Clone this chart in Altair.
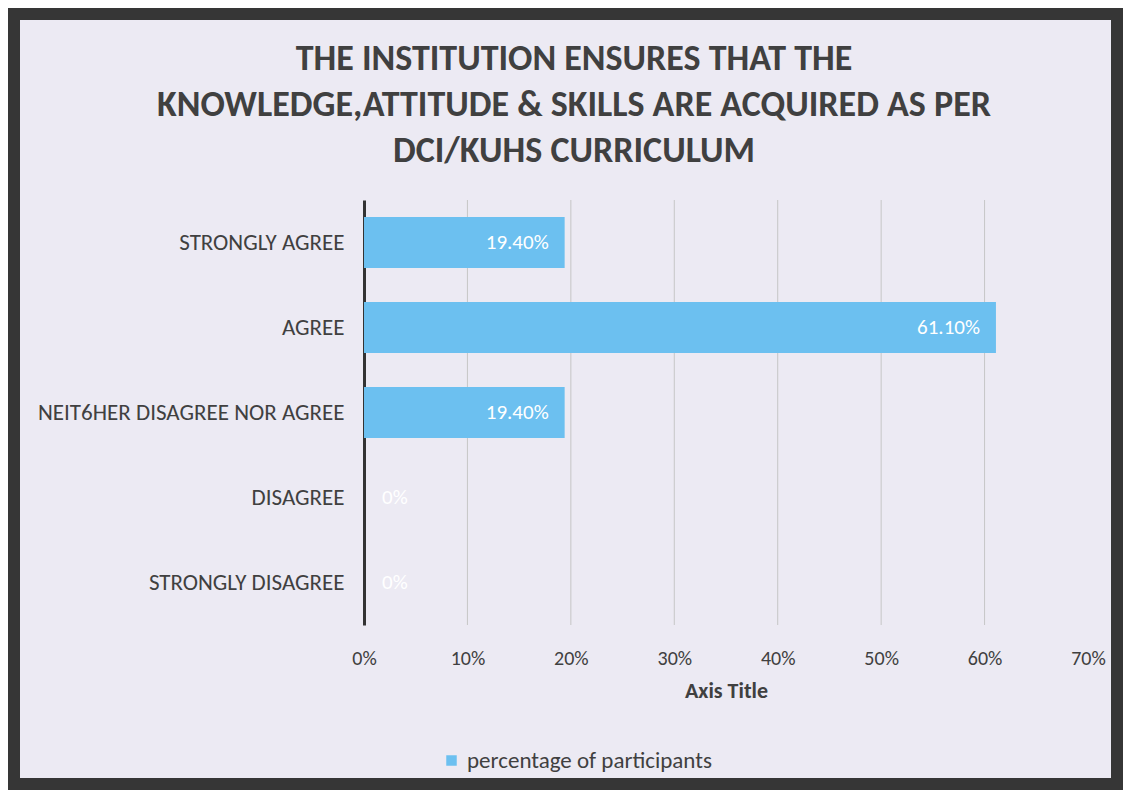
import altair as alt
import pandas as pd

categories = ["STRONGLY AGREE", "AGREE", "NEIT6HER DISAGREE NOR AGREE", "DISAGREE", "STRONGLY DISAGREE"]
values = [0.194, 0.611, 0.194, 0.0, 0.0]
labels = ["19.40%", "61.10%", "19.40%", "0%", "0%"]
series_name = "percentage of participants"
x_ticks = [0, 0.1, 0.2, 0.3, 0.4, 0.5, 0.6, 0.7]
grid_ticks = [0.1, 0.2, 0.3, 0.4, 0.5, 0.6]
title_lines = ["THE INSTITUTION ENSURES THAT THE",
               "KNOWLEDGE,ATTITUDE & SKILLS ARE ACQUIRED AS PER",
               "DCI/KUHS CURRICULUM"]

FONT = "Carlito, Lato, Open Sans, sans-serif"
BAR = "#6cc0f0"
BG = "#eceaf3"
FRAME = "#363636"
TXT = "#404040"

df = pd.DataFrame({"cat": categories, "val": values, "lab": labels, "series": series_name})
grid_df = pd.DataFrame({"g": grid_ticks})
one_df = pd.DataFrame({"a": [0]})

W, H = 724, 425

xscale = alt.Scale(domain=[0, 0.7], nice=False)
yscale = alt.Scale(domain=categories, paddingInner=0.4, paddingOuter=0.2)
xaxis = alt.Axis(values=x_ticks, format=".0%", title="Axis Title", grid=False,
                 domain=False, ticks=False, labelPadding=23, titlePadding=12,
                 labelFlush=False, labelFontSize=20, titleFontSize=22, titleFontWeight="bold",
                 labelColor=TXT, titleColor=TXT, labelFont=FONT, titleFont=FONT)

frame = alt.Chart(one_df).mark_rect(fill=None, stroke=FRAME, strokeWidth=24).encode(
    x=alt.value(-356), x2=alt.value(759), y=alt.value(-192), y2=alt.value(590)
)

title = alt.Chart(one_df).mark_text(
    align="center", baseline="top", fontSize=36, fontWeight="bold", color=TXT,
    font=FONT, lineHeight=46
).encode(x=alt.value(210), y=alt.value(-158), text=alt.value(title_lines))

grid = alt.Chart(grid_df).mark_rule(color="#c6c6c6", strokeWidth=1).encode(
    x=alt.X("g:Q", scale=xscale, axis=xaxis)
)

bars = alt.Chart(df).mark_bar().encode(
    x=alt.X("val:Q", scale=xscale, axis=xaxis),
    y=alt.Y("cat:N", scale=yscale, sort=categories,
            axis=alt.Axis(title=None, ticks=False, domainColor="#333333", domainWidth=3,
                          labelPadding=20, labelFontSize=23, labelColor=TXT, labelFont=FONT,
                          labelLimit=500, grid=False)),
    color=alt.Color("series:N", scale=alt.Scale(range=[BAR]),
                    legend=alt.Legend(title=None, orient="none", legendX=76, legendY=549,
                                      symbolType="square", symbolSize=110, labelFontSize=23,
                                      labelLimit=400, labelColor=TXT, labelFont=FONT,
                                      symbolStrokeWidth=0)),
)

pos_labels = alt.Chart(df).transform_filter("datum.val > 0").mark_text(
    align="right", baseline="middle", dx=-16, color="white", fontSize=21, font=FONT
).encode(
    x=alt.X("val:Q", scale=xscale),
    y=alt.Y("cat:N", scale=yscale, sort=categories),
    text="lab:N",
)

zero_labels = alt.Chart(df).transform_filter("datum.val <= 0").mark_text(
    align="left", baseline="middle", dx=18, color="white", fontSize=21, font=FONT
).encode(
    x=alt.X("val:Q", scale=xscale),
    y=alt.Y("cat:N", scale=yscale, sort=categories),
    text="lab:N",
)

chart = alt.layer(grid, bars, pos_labels, zero_labels, title, frame).properties(
    width=W, height=H,
    autosize=alt.AutoSizeParams(type="none"),
    padding={"left": 356, "top": 192, "right": 35, "bottom": 165},
    background=BG,
).configure_view(stroke=None)

chart.save("out.html", embed_options={"renderer": "svg", "actions": False})
